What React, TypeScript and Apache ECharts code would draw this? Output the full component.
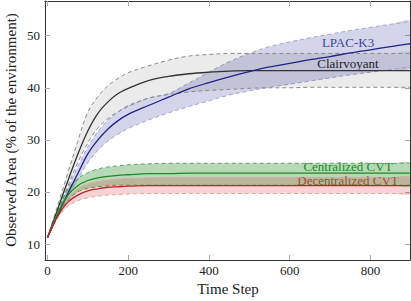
import React, { useEffect, useRef } from "react";
import * as echarts from "echarts";

const steps = [0, 25, 50, 75, 100, 125, 150, 175, 200, 250, 300, 350, 400, 450, 500, 550, 600, 650, 700, 750, 800, 850, 900];

const clairMean = [11.2, 16.6, 22.0, 27.2, 31.7, 35.1, 37.3, 38.9, 39.9, 41.4, 42.2, 42.7, 43.0, 43.2, 43.3, 43.3, 43.3, 43.3, 43.3, 43.3, 43.3, 43.3, 43.3];
const clairUpper = [11.2, 17.3, 23.5, 29.7, 35.3, 38.3, 40.4, 41.8, 42.9, 44.2, 45.3, 46.1, 46.4, 46.6, 46.6, 46.6, 46.6, 46.6, 46.6, 46.6, 46.6, 46.6, 46.6];
const clairLower = [11.2, 16.1, 21.0, 25.6, 29.4, 32.3, 34.1, 35.4, 36.4, 38.0, 38.7, 39.2, 39.5, 39.7, 39.9, 40.0, 40.0, 40.1, 40.1, 40.1, 40.1, 40.1, 40.1];

const lpacMean = [11.2, 15.5, 19.6, 23.5, 27.3, 30.0, 32.1, 33.7, 34.9, 36.6, 38.2, 39.8, 41.0, 42.1, 43.1, 44.0, 44.7, 45.4, 46.0, 46.7, 47.3, 47.9, 48.5];
const lpacUpper = [11.2, 15.9, 20.6, 24.8, 28.6, 31.6, 33.8, 35.4, 36.6, 38.0, 38.9, 40.9, 43.0, 45.0, 46.6, 47.9, 48.8, 49.6, 50.3, 51.0, 51.6, 52.2, 52.7];
const lpacLower = [11.2, 15.2, 19.0, 22.4, 25.6, 28.0, 29.8, 31.1, 32.2, 33.8, 35.2, 36.4, 37.5, 38.6, 39.4, 40.1, 40.7, 41.3, 41.9, 42.5, 43.0, 43.5, 44.0];

const cenMean = [11.2, 15.8, 19.3, 21.2, 22.2, 22.7, 23.0, 23.2, 23.3, 23.5, 23.5, 23.6, 23.6, 23.6, 23.6, 23.6, 23.6, 23.6, 23.6, 23.6, 23.6, 23.6, 23.6];
const cenUpper = [11.2, 16.3, 20.5, 22.6, 23.7, 24.4, 24.8, 25.0, 25.2, 25.4, 25.5, 25.5, 25.5, 25.5, 25.5, 25.5, 25.5, 25.5, 25.5, 25.5, 25.5, 25.5, 25.5];
const cenLower = [11.2, 15.3, 18.3, 20.0, 20.7, 21.0, 21.2, 21.3, 21.3, 21.3, 21.3, 21.3, 21.3, 21.3, 21.3, 21.3, 21.3, 21.3, 21.3, 21.3, 21.3, 21.3, 21.3];

const decMean = [11.2, 15.3, 18.0, 19.4, 20.2, 20.6, 20.9, 21.0, 21.1, 21.2, 21.2, 21.2, 21.2, 21.2, 21.2, 21.2, 21.2, 21.2, 21.2, 21.2, 21.2, 21.2, 21.2];
const decUpper = [11.2, 15.7, 18.8, 20.6, 21.5, 22.0, 22.3, 22.5, 22.6, 22.7, 22.8, 22.8, 22.8, 22.8, 22.8, 22.8, 22.8, 22.8, 22.8, 22.8, 22.8, 22.8, 22.8];
const decLower = [11.2, 14.9, 17.2, 18.3, 18.9, 19.2, 19.4, 19.5, 19.6, 19.7, 19.7, 19.7, 19.7, 19.7, 19.7, 19.7, 19.7, 19.7, 19.7, 19.7, 19.7, 19.7, 19.7];

const xTicks = [0, 200, 400, 600, 800];
const yTicks = [10, 20, 30, 40, 50];

const FONT = "Liberation Serif";
const SMOOTH = 0.35;

function pairs(vals: number[]) {
  return steps.map((s, i) => [s, vals[i]]);
}

function band(id: string, lower: number[], upper: number[], fill: string, dash: string) {
  return {
    type: "custom",
    name: id + "-band",
    coordinateSystem: "cartesian2d",
    data: steps.map((s, i) => [s, lower[i], upper[i]]),
    encode: { x: 0, y: [1, 2] },
    clip: true,
    silent: true,
    renderItem: (params: any, api: any) => {
      if (params.dataIndex !== 0) return null;
      const up = steps.map((s, i) => api.coord([s, upper[i]]));
      const lo = steps.map((s, i) => api.coord([s, lower[i]]));
      const poly = up.concat(lo.slice().reverse());
      return {
        type: "group",
        children: [
          { type: "polygon", shape: { points: poly, smooth: SMOOTH }, style: { fill, stroke: null } },
          { type: "polyline", shape: { points: up, smooth: SMOOTH }, style: { fill: null, stroke: dash, lineWidth: 1, lineDash: [4, 3] } },
          { type: "polyline", shape: { points: lo, smooth: SMOOTH }, style: { fill: null, stroke: dash, lineWidth: 1, lineDash: [4, 3] } },
        ],
      };
    },
  };
}

function mean(id: string, vals: number[], color: string) {
  return {
    type: "line",
    name: id,
    data: pairs(vals),
    smooth: SMOOTH,
    showSymbol: false,
    silent: true,
    lineStyle: { color, width: 1.3 },
  };
}

export default function App() {
  const ref = useRef<HTMLDivElement>(null);
  useEffect(() => {
    if (!ref.current) return;
    const chart = echarts.init(ref.current, undefined, { renderer: "svg" });
    const xBase = {
      type: "value",
      min: -6,
      max: 898,
      axisLine: { show: true, onZero: false, lineStyle: { color: "#333", width: 1 } },
      axisTick: { show: true, inside: true, length: 5, customValues: xTicks, lineStyle: { color: "#aaa" } },
      splitLine: { show: false },
    };
    const yBase = {
      type: "value",
      min: 6.93,
      max: 56.67,
      axisLine: { show: true, onZero: false, lineStyle: { color: "#333", width: 1 } },
      axisTick: { show: true, inside: true, length: 5, customValues: yTicks, lineStyle: { color: "#aaa" } },
      splitLine: { show: false },
    };
    chart.setOption({
      animation: false,
      grid: { left: 45, right: 1, top: 1, bottom: 41 },
      xAxis: [
        {
          ...xBase,
          position: "bottom",
          axisLabel: { customValues: xTicks, fontFamily: FONT, fontSize: 13, color: "#222", margin: 4 },
        },
        { ...xBase, position: "top", axisLabel: { show: false } },
      ],
      yAxis: [
        {
          ...yBase,
          position: "left",
          axisLabel: { customValues: yTicks, fontFamily: FONT, fontSize: 13, color: "#222", margin: 5 },
        },
        { ...yBase, position: "right", axisLabel: { show: false } },
      ],
      series: [
        band("lpac", lpacLower, lpacUpper, "rgba(40,40,150,0.2)", "#a3a3d3"),
        band("clair", clairLower, clairUpper, "rgba(0,0,0,0.08)", "#8a8a8a"),
        band("cen", cenLower, cenUpper, "rgba(20,130,20,0.3)", "#5aa85a"),
        band("dec", decLower, decUpper, "rgba(200,40,40,0.2)", "#e3a5a5"),
        mean("Clairvoyant", clairMean, "#333333"),
        mean("LPAC-K3", lpacMean, "#22228a"),
        mean("Centralized CVT", cenMean, "#1f8a1f"),
        mean("Decentralized CVT", decMean, "#b52a2a"),
      ],
      graphic: [
        { type: "text", x: 348, y: 42, style: { text: "LPAC-K3", font: `13px '${FONT}'`, fill: "#4a4a9e", textAlign: "center", textVerticalAlign: "middle" } },
        { type: "text", x: 348, y: 63, style: { text: "Clairvoyant", font: `13px '${FONT}'`, fill: "#222", textAlign: "center", textVerticalAlign: "middle" } },
        { type: "text", x: 348, y: 166, style: { text: "Centralized CVT", font: `13px '${FONT}'`, fill: "#2a8a2a", textAlign: "center", textVerticalAlign: "middle" } },
        { type: "text", x: 348, y: 180, style: { text: "Decentralized CVT", font: `13px '${FONT}'`, fill: "#c24a4a", textAlign: "center", textVerticalAlign: "middle" } },
        { type: "text", x: 228, y: 289, style: { text: "Time Step", font: `15px '${FONT}'`, fill: "#222", textAlign: "center", textVerticalAlign: "middle" } },
        { type: "text", x: 11, y: 130, rotation: Math.PI / 2, style: { text: "Observed Area (% of the environment)", font: `15px '${FONT}'`, fill: "#222", textAlign: "center", textVerticalAlign: "middle" } },
      ],
    });
    return () => chart.dispose();
  }, []);
  return <div ref={ref} style={{ position: "absolute", left: 0, top: 0, width: 411, height: 301 }} />;
}
